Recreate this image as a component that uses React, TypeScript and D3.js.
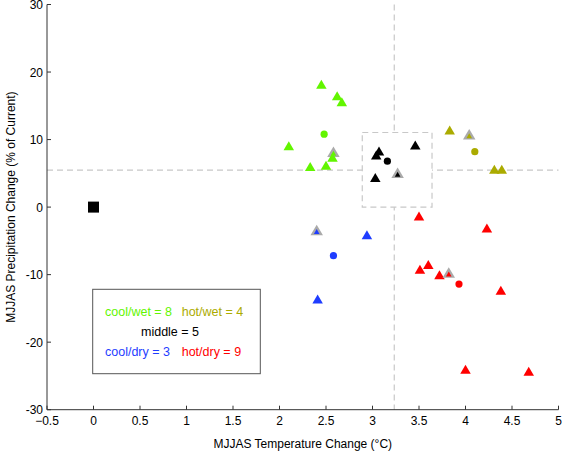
import React from "react";
import * as d3 from "d3";

type Pt = { x: number; y: number; kind: "tri" | "circle" | "gray" };

const xTicks = [-0.5, 0, 0.5, 1, 1.5, 2, 2.5, 3, 3.5, 4, 4.5, 5];
const yTicks = [-30, -20, -10, 0, 10, 20, 30];

const coolWet: Pt[] = [
  { x: 2.45, y: 18.2, kind: "tri" },
  { x: 2.62, y: 16.5, kind: "tri" },
  { x: 2.67, y: 15.6, kind: "tri" },
  { x: 2.48, y: 10.8, kind: "circle" },
  { x: 2.1, y: 9.1, kind: "tri" },
  { x: 2.58, y: 8.2, kind: "gray" },
  { x: 2.57, y: 7.4, kind: "tri" },
  { x: 2.33, y: 6.0, kind: "tri" },
  { x: 2.5, y: 6.2, kind: "tri" },
];
const hotWet: Pt[] = [
  { x: 3.83, y: 11.4, kind: "tri" },
  { x: 4.04, y: 10.8, kind: "gray" },
  { x: 4.1, y: 8.2, kind: "circle" },
  { x: 4.31, y: 5.6, kind: "tri" },
  { x: 4.39, y: 5.6, kind: "tri" },
];
const middle: Pt[] = [
  { x: 3.07, y: 8.3, kind: "tri" },
  { x: 3.04, y: 7.7, kind: "tri" },
  { x: 3.46, y: 9.2, kind: "tri" },
  { x: 3.03, y: 4.4, kind: "tri" },
  { x: 3.27, y: 5.1, kind: "gray" },
  { x: 3.16, y: 6.8, kind: "circle" },
];
const coolDry: Pt[] = [
  { x: 2.4, y: -3.4, kind: "gray" },
  { x: 2.94, y: -4.1, kind: "tri" },
  { x: 2.58, y: -7.2, kind: "circle" },
  { x: 2.41, y: -13.6, kind: "tri" },
];
const hotDry: Pt[] = [
  { x: 3.5, y: -1.3, kind: "tri" },
  { x: 4.23, y: -3.1, kind: "tri" },
  { x: 3.6, y: -8.5, kind: "tri" },
  { x: 3.51, y: -9.2, kind: "tri" },
  { x: 3.72, y: -10.0, kind: "tri" },
  { x: 3.82, y: -9.7, kind: "gray" },
  { x: 3.93, y: -11.4, kind: "circle" },
  { x: 4.38, y: -12.3, kind: "tri" },
  { x: 4.0, y: -24.0, kind: "tri" },
  { x: 4.68, y: -24.3, kind: "tri" },
];
const current = [{ x: 0, y: 0 }];

const groups = [
  { name: "cool/wet", color: "#62F500", pts: coolWet },
  { name: "hot/wet", color: "#ABAB00", pts: hotWet },
  { name: "middle", color: "#000000", pts: middle },
  { name: "cool/dry", color: "#1F3DFF", pts: coolDry },
  { name: "hot/dry", color: "#FF0000", pts: hotDry },
];

const vLineX = 3.234;
const hLineY = 5.47;
const midBox = { x0: 2.89, x1: 3.64, y0: 0, y1: 11.05 };

const FONT = "'Liberation Sans', Arial, Helvetica, sans-serif";

function triPath(cx: number, cy: number, w: number, h: number) {
  return `M${cx},${cy - h / 2}L${cx + w / 2},${cy + h / 2}L${cx - w / 2},${cy + h / 2}Z`;
}

export default function App() {
  const W = 567;
  const H = 454;
  const x = d3.scaleLinear().domain([-0.5, 5]).range([47, 558.5]);
  const y = d3.scaleLinear().domain([-30, 30]).range([409.7, 4.5]);
  const axisColor = "#333";
  const dash = "6,4";
  const dashColor = "#c8c8c8";

  return (
    <svg width={W} height={H} style={{ position: "absolute", left: 0, top: 0, background: "#fff" }} fontFamily={FONT}>
      <rect x={0} y={0} width={W} height={H} fill="#fff" />
      <line x1={x(vLineX)} x2={x(vLineX)} y1={y(30)} y2={y(-30)} stroke={dashColor} strokeWidth={1.2} strokeDasharray={dash} />
      <line x1={x(-0.5)} x2={x(5)} y1={y(hLineY)} y2={y(hLineY)} stroke={dashColor} strokeWidth={1.2} strokeDasharray={dash} />
      <rect
        x={x(midBox.x0)}
        y={y(midBox.y1)}
        width={x(midBox.x1) - x(midBox.x0)}
        height={y(midBox.y0) - y(midBox.y1)}
        fill="#fff"
        stroke={dashColor}
        strokeWidth={1.2}
        strokeDasharray={dash}
      />
      <line x1={x(-0.5)} x2={x(5)} y1={y(-30)} y2={y(-30)} stroke={axisColor} strokeWidth={1} />
      <line x1={x(-0.5)} x2={x(-0.5)} y1={y(-30)} y2={y(30)} stroke={axisColor} strokeWidth={1} />
      {xTicks.map((t) => (
        <g key={"xt" + t}>
          <line x1={x(t)} x2={x(t)} y1={y(-30)} y2={y(-30) - 4} stroke={axisColor} />
          <text x={x(t)} y={y(-30) + 15} textAnchor="middle" fontSize={12} fill="#000">
            {t < 0 ? "\u2212" + Math.abs(t) : String(t)}
          </text>
        </g>
      ))}
      {yTicks.map((t) => (
        <g key={"yt" + t}>
          <line x1={x(-0.5)} x2={x(-0.5) + 4} y1={y(t)} y2={y(t)} stroke={axisColor} />
          <text x={x(-0.5) - 4} y={y(t) + 4.5} textAnchor="end" fontSize={12} fill="#000">
            {String(t)}
          </text>
        </g>
      ))}
      <text x={(x(-0.5) + x(5)) / 2} y={448} textAnchor="middle" fontSize={12} fill="#000">
        MJJAS Temperature Change (°C)
      </text>
      <text transform={`translate(15,${(y(30) + y(-30)) / 2}) rotate(-90)`} textAnchor="middle" fontSize={12} fill="#000">
        MJJAS Precipitation Change (% of Current)
      </text>
      <rect x={92.7} y={289.3} width={167.6} height={84.4} fill="#fff" stroke="#555" strokeWidth={1} />
      <text x={105} y={316} fontSize={12.5} fill={groups[0].color}>{`cool/wet = ${coolWet.filter((p) => p.kind !== "circle").length}`}</text>
      <text x={181.7} y={316} fontSize={12.5} fill={groups[1].color}>{`hot/wet = ${hotWet.filter((p) => p.kind !== "circle").length}`}</text>
      <text x={141} y={336} fontSize={12.5} fill="#000">{`middle = ${middle.filter((p) => p.kind !== "circle").length}`}</text>
      <text x={105} y={355.5} fontSize={12.5} fill={groups[3].color}>{`cool/dry = ${coolDry.filter((p) => p.kind !== "circle").length}`}</text>
      <text x={181.7} y={355.5} fontSize={12.5} fill={groups[4].color}>{`hot/dry = ${hotDry.filter((p) => p.kind !== "circle").length}`}</text>
      {current.map((p, i) => (
        <rect key={"sq" + i} x={x(p.x) - 5.5} y={y(p.y) - 5.5} width={11} height={11} fill="#000" />
      ))}
      {groups.map((g) =>
        g.pts.map((p, i) => {
          const cx = x(p.x);
          const cy = y(p.y);
          if (p.kind === "circle") return <circle key={g.name + i} cx={cx} cy={cy} r={3.6} fill={g.color} />;
          if (p.kind === "gray")
            return (
              <g key={g.name + i}>
                <path d={triPath(cx, cy, 12.5, 10.5)} fill="#aaaaaa" />
                <path d={triPath(cx, cy + 1.5, 5.6, 5)} fill={g.color} />
              </g>
            );
          return <path key={g.name + i} d={triPath(cx, cy, 10.5, 9)} fill={g.color} />;
        })
      )}
    </svg>
  );
}
